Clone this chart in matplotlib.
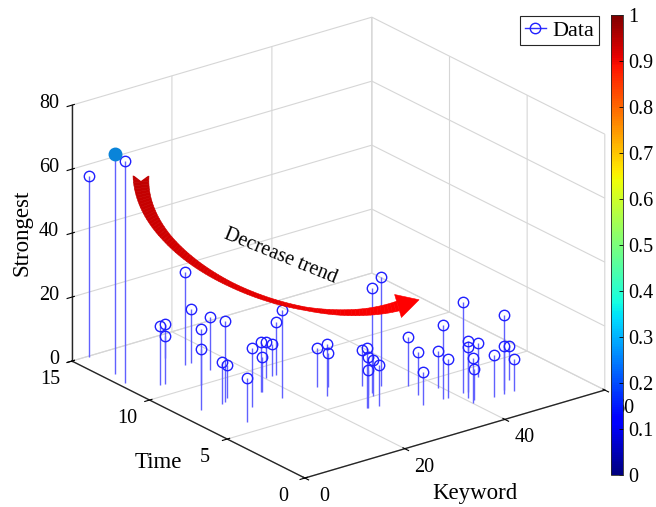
import matplotlib.pyplot as plt
import numpy as np
from matplotlib.cm import ScalarMappable
from matplotlib.collections import PolyCollection
from matplotlib.colors import Normalize, to_rgb
from matplotlib.legend_handler import HandlerLine2D
from matplotlib.lines import Line2D
from matplotlib.patches import Polygon
from mpl_toolkits.mplot3d import proj3d

plt.rcParams["font.family"] = ["Liberation Serif", "DejaVu Serif"]
plt.rcParams["grid.color"] = "#d6d6d6"
plt.rcParams["grid.linewidth"] = 0.8

# one record per keyword hit: keyword index, time step, strength
keyword = [3.1, 2.1, 1.2, 13.3, 14.4, 5.1, 5.9, 12.5, 10.2, 4.0,
           15.2, 9.1, 8.2, 10.2, 6.8, 11.2, 16.1, 20.1, 21.4, 16.2,
           22.2, 17.1, 24.4, 23.3, 25.7, 29.9, 32.7, 30.4, 25.5, 28.7,
           29.1, 27.5, 25.6, 36.1, 35.1, 33.2, 39.4, 37.2, 38.3, 41.2,
           42.3, 40.7, 47.4, 40.2, 40.9, 44.3, 46.3, 47.2, 50.4, 48.4]
time = [14.9, 12.9, 12.0, 12.0, 12.0, 11.0, 10.9, 13.0, 10.0, 8.0,
        11.0, 8.1, 8.0, 8.3, 5.9, 7.0, 8.0, 9.0, 9.0, 8.0,
        9.0, 7.0, 7.1, 6.1, 6.8, 5.3, 5.6, 6.1, 4.2, 5.2,
        5.0, 4.1, 4.2, 5.0, 4.0, 3.1, 4.1, 3.1, 3.1, 3.1,
        3.1, 2.6, 4.1, 2.1, 2.3, 2.1, 2.1, 2.4, 3.1, 2.1]
strength = [56.7, 68.8, 69.4, 29.1, 16.9, 18.4, 18.8, 6.9, 17.4, 19.0,
            16.6, 25.2, 13.0, 10.3, 13.8, 18.4, 15.6, 11.3, 10.0, 10.8,
            16.6, 27.6, 12.2, 16.4, 10.6, 32.8, 34.3, 11.3, 18.7, 12.0,
            11.3, 12.8, 11.9, 15.2, 13.7, 10.5, 11.7, 23.2, 12.2, 28.6,
            15.8, 15.9, 10.6, 14.0, 9.6, 13.0, 24.6, 13.8, 10.7, 9.8]
peak = 1  # record highlighted with a filled marker

xticks = [0, 20, 40, 60]
yticks = [0, 5, 10, 15]
zticks = [0, 20, 40, 60, 80]

W, H = 656, 507
fig = plt.figure(figsize=(W / 100, H / 100), dpi=100)

ax = fig.add_axes([0.1245, 0.0053, 0.762, 0.986], projection="3d",
                  proj_type="ortho", computed_zorder=False)
ax.set_box_aspect((377.6, 383.7, 277.2), zoom=1.1756)
ax.view_init(elev=22.57, azim=-127.39, roll=0)

markerline, stemlines, baseline = ax.stem(keyword, time, strength)
baseline.set_visible(False)
stemlines.set_color((0.38, 0.38, 1.0))
stemlines.set_linewidth(1.0)
stemlines.set_zorder(2)
markerline.set_color("#2020ff")
markerline.set_markerfacecolor("none")
markerline.set_markersize(7.5)
markerline.set_markeredgewidth(1.0)
markerline.set_zorder(3)
ax.plot([keyword[peak]], [time[peak]], [strength[peak]], "o",
        color="#0a84d9", markersize=9, zorder=4)

ax.set_xlim(0, 60)
ax.set_ylim(0, 15)
ax.set_zlim(0, 80)
ax.set_xticks(xticks)
ax.set_yticks(yticks)
ax.set_zticks(zticks)

for axis in (ax.xaxis, ax.yaxis, ax.zaxis):
    axis.set_tick_params(label1On=False, label2On=False)
    axis.set_pane_color((1, 1, 1, 0))
    axis.line.set_color("#262626")
    axis.line.set_linewidth(1.0)

# tick labels sit next to their ticks, MATLAB style: project the 3D anchor
# point once the layout is fixed and write the label in 2D
fig.canvas.draw()
M = ax.get_proj()


def tick_label(x, y, z, s, **kw):
    px, py, _ = proj3d.proj_transform(x, y, z, M)
    ax.text2D(px, py, s, transform=ax.transData, fontsize=14.5,
              va="center", **kw)


for v in xticks:
    tick_label(v, -1.25, -2.7, str(v), ha="center")
for v in yticks:
    tick_label(-4.4, v, -3.9, str(v), ha="center")
for v in zticks:
    tick_label(-2.6, 15, v + 1.6, str(v), ha="right")

fig.text(22 / W, 1 - 233 / H, "Strongest", fontsize=16.5, rotation=90,
         ha="center", va="center")
fig.text(158 / W, 1 - 463 / H, "Time", fontsize=16.5, ha="center", va="center")
fig.text(475 / W, 1 - 493 / H, "Keyword", fontsize=16.5, ha="center", va="center")

# jet colour bar on the right
cax = fig.add_axes([611 / W, 32 / H, 12 / W, 460 / H])
cb = fig.colorbar(ScalarMappable(norm=Normalize(0, 1), cmap="jet"), cax=cax,
                  ticks=np.arange(0, 1.01, 0.1))
cb.ax.set_yticklabels([f"{v:g}" for v in np.arange(0, 1.01, 0.1).round(1)])
cb.ax.tick_params(labelsize=14.5, direction="in", length=3, width=0.6)
cb.outline.set_edgecolor("#262626")
cb.outline.set_linewidth(0.6)


class StemHandler(HandlerLine2D):
    # line with the marker sitting on its right end
    def get_xdata(self, legend, xdescent, ydescent, width, height, fontsize):
        xdata = np.array([-xdescent, -xdescent + width])
        return xdata, np.array([-xdescent + width])


handle = Line2D([], [], color="#3030ff", lw=1.0, marker="o", mfc="none",
                mec="#2020ff", ms=7.5)
leg = fig.legend([handle], ["Data"], handler_map={Line2D: StemHandler()},
                 loc="upper right", bbox_to_anchor=(599 / W, 1 - 16 / H),
                 fontsize=16, handlelength=0.95, handletextpad=0.3,
                 borderpad=0.2, borderaxespad=0, fancybox=False,
                 framealpha=1, edgecolor="#262626")
leg.get_frame().set_linewidth(0.8)


# curved red trend arrow (pixel coordinates, y measured from the top)
def to_fig(pts):
    pts = np.asarray(pts, dtype=float)
    return np.column_stack([pts[:, 0] / W, 1 - pts[:, 1] / H])


P0, P1, P2, P3 = map(np.array, ([141, 176], [140, 265], [300, 335], [398, 306]))
t = np.linspace(0, 1, 90)[:, None]
centre = ((1 - t) ** 3 * P0 + 3 * (1 - t) ** 2 * t * P1
          + 3 * (1 - t) * t ** 2 * P2 + t ** 3 * P3)
tang = (-3 * (1 - t) ** 2 * P0 + 3 * ((1 - t) ** 2 - 2 * t * (1 - t)) * P1
        + 3 * (2 * t * (1 - t) - t ** 2) * P2 + 3 * t ** 2 * P3)
tang /= np.linalg.norm(tang, axis=1, keepdims=True)
norm = np.column_stack([-tang[:, 1], tang[:, 0]])
width = np.interp(t[:, 0], [0, 0.25, 0.5, 0.72, 0.9, 1],
                  [16, 9, 5, 3.5, 7, 10])
left = centre + norm * width[:, None] / 2
right = centre - norm * width[:, None] / 2

c0, c1 = np.array(to_rgb("#c00000")), np.array(to_rgb("#ff0000"))
verts, cols = [], []
for i in range(len(t) - 1):
    verts.append(to_fig([left[i], left[i + 1], right[i + 1], right[i]]))
    cols.append(c0 + (c1 - c0) * t[i, 0])
fig.add_artist(PolyCollection(verts, facecolors=cols, edgecolors=cols,
                              linewidths=0.4, transform=fig.transFigure,
                              zorder=5))
# notch cut into the tail end
notch = [left[0] - tang[0] * 1, centre[0] + tang[0] * 5, right[0] - tang[0] * 1]
fig.add_artist(Polygon(to_fig(notch), closed=True, facecolor="white",
                       edgecolor="none", transform=fig.transFigure, zorder=6))
end, d, n = centre[-1], tang[-1], norm[-1]
head = [end + n * 12, end + d * 22, end - n * 12]
fig.add_artist(Polygon(to_fig(head), closed=True, facecolor=c1, edgecolor=c1,
                       linewidth=0.4, transform=fig.transFigure, zorder=5))

fig.text(280 / W, 1 - 256 / H, "Decrease trend", fontsize=14.5,
         rotation=-22, ha="center", va="center", rotation_mode="anchor")

fig.savefig("out.png", dpi=100)
